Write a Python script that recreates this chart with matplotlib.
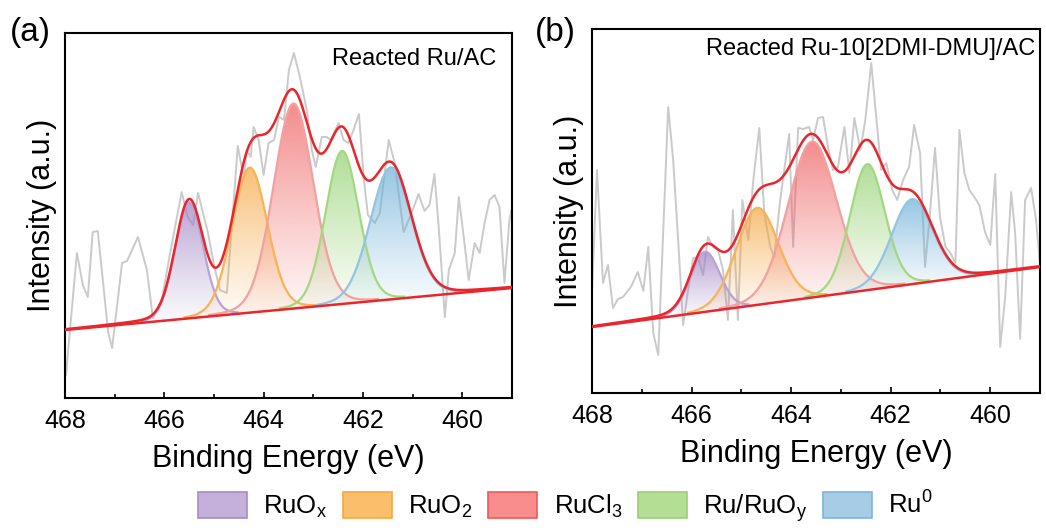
import numpy as np
import matplotlib
matplotlib.use("Agg")
import matplotlib.pyplot as plt
from matplotlib.patches import Polygon, Patch
from matplotlib.ticker import MultipleLocator
import matplotlib.colors as mcolors

plt.rcParams['font.family'] = ['Liberation Sans', 'DejaVu Sans']
plt.rcParams['mathtext.fontset'] = 'custom'
plt.rcParams['mathtext.rm'] = 'Liberation Sans'
plt.rcParams['mathtext.it'] = 'Liberation Sans:italic'

# ---- raw spectra (binding energy, intensity a.u.) ----
a_energy = [467.98, 467.76, 467.64, 467.54, 467.44, 467.34, 467.13, 467.05, 466.85, 466.75,
            466.53, 466.35, 466.23, 466.05, 465.89, 465.65, 465.53, 465.42, 465.32, 465.12,
            465.00, 464.88, 464.74, 464.52, 464.40, 464.34, 464.26, 464.20, 464.10, 464.00,
            463.90, 463.79, 463.69, 463.59, 463.49, 463.39, 463.27, 463.13, 463.03, 462.95,
            462.83, 462.73, 462.65, 462.49, 462.39, 462.29, 462.19, 462.08, 461.98, 461.90,
            461.76, 461.66, 461.48, 461.36, 461.18, 461.02, 460.88, 460.76, 460.66, 460.56,
            460.47, 460.35, 460.27, 460.15, 460.07, 459.97, 459.87, 459.75, 459.65, 459.55,
            459.45, 459.35, 459.25, 459.15, 459.05, 458.93]
a_raw = [23, 145, 113, 101, 166, 167, 66, 50, 135, 137,
         161, 128, 80, 98, 143, 206, 181, 173, 205, 165,
         133, 108, 105, 252, 220, 248, 241, 271, 258, 223,
         255, 258, 281, 278, 328, 345, 321, 288, 248, 231,
         261, 261, 258, 275, 258, 255, 268, 284, 218, 183,
         175, 185, 258, 235, 166, 185, 204, 187, 193, 224,
         168, 81, 128, 145, 201, 161, 118, 155, 145, 175,
         198, 203, 191, 115, 178, 206]

b_energy = [468.00, 467.90, 467.78, 467.68, 467.58, 467.48, 467.38, 467.22, 467.08,
            466.97, 466.87, 466.77, 466.67, 466.47, 466.37, 466.27, 466.17, 466.07,
            465.97, 465.87, 465.77, 465.67, 465.57, 465.47, 465.37, 465.27, 465.17, 465.07,
            464.98, 464.86, 464.76, 464.64, 464.54, 464.42, 464.34, 464.22, 464.04,
            463.96, 463.86, 463.76, 463.64, 463.56, 463.46, 463.36, 463.26, 463.16, 463.06,
            462.93, 462.83, 462.73, 462.61, 462.51, 462.39, 462.31, 462.19, 462.09,
            461.97, 461.87, 461.75, 461.63, 461.53, 461.41, 461.31, 461.21, 461.11, 461.01,
            460.90, 460.80, 460.70, 460.62, 460.52, 460.42, 460.32, 460.22, 460.10, 460.00,
            459.90, 459.80, 459.70, 459.58, 459.50, 459.40, 459.30, 459.18, 459.08, 458.97]
b_raw = [103, 223, 110, 128, 85, 94, 96, 106, 121,
         102, 146, 60, 38, 286, 233, 153, 68, 103,
         135, 136, 118, 156, 146, 143, 123, 73, 183, 73,
         193, 153, 213, 265, 180, 146, 136, 193, 259,
         146, 265, 264, 266, 253, 275, 276, 246, 223, 226,
         266, 220, 275, 243, 273, 330, 286, 223, 230,
         203, 193, 213, 226, 268, 240, 126, 180, 245, 176,
         146, 140, 130, 263, 220, 203, 196, 188, 160, 148,
         219, 46, 96, 201, 160, 54, 193, 205, 173, 111]

# ---- fitted components: centre (eV), height above background, FWHM (eV) ----
species = ['RuO$_\\mathrm{x}$', 'RuO$_\\mathrm{2}$', 'RuCl$_\\mathrm{3}$',
           'Ru/RuO$_\\mathrm{y}$', 'Ru$^\\mathrm{0}$']
a_centers = [465.50, 464.28, 463.40, 462.42, 461.44]
a_heights = [116, 145, 205, 153, 132]
a_fwhm = [0.67, 0.84, 0.95, 0.79, 0.98]
a_bg = [68, 110]      # background at 468 eV and 459 eV

b_centers = [465.73, 464.68, 463.58, 462.47, 461.57]
b_heights = [60, 97, 156, 126, 85]
b_fwhm = [0.70, 1.00, 1.16, 0.83, 0.98]
b_bg = [66, 126]

lor_frac = 0.1   # Gaussian-Lorentzian mixing

fill_colors = ['#9b7fc0', '#f5a53d', '#ef5b5b', '#8fd06a', '#6aaed8']
line_colors = ['#b9a3d6', '#f7b457', '#f3a0a0', '#a3d880', '#92c4e4']
legend_face = ['#c4b0da', '#fbbf6c', '#f98c8c', '#b3de93', '#a6cce6']
legend_edge = ['#a88bc6', '#f5a844', '#f15858', '#99d075', '#7db6db']

panels = [
    dict(pos=[0.0621, 0.2462, 0.4273, 0.6913], ylim=365, energy=a_energy, raw=a_raw,
         centers=a_centers, heights=a_heights, fwhm=a_fwhm, bg=a_bg,
         tag='(a)', tag_x=10, note='Reacted Ru/AC', note_xy=(0.966, 0.912)),
    dict(pos=[0.5660, 0.2557, 0.4283, 0.6894], ylim=364, energy=b_energy, raw=b_raw,
         centers=b_centers, heights=b_heights, fwhm=b_fwhm, bg=b_bg,
         tag='(b)', tag_x=535, note='Reacted Ru-10[2DMI-DMU]/AC', note_xy=(0.989, 0.929)),
]


def gl_peak(x, c, h, w):
    g = np.exp(-4 * np.log(2) * (x - c) ** 2 / w ** 2)
    l = 1.0 / (1 + 4 * (x - c) ** 2 / w ** 2)
    return h * ((1 - lor_frac) * g + lor_frac * l)


fig = plt.figure(figsize=(10.46, 5.28), dpi=100)
x = np.linspace(468, 459, 901)

for p in panels:
    ax = fig.add_axes(p['pos'])
    base = p['bg'][0] + (468 - x) / 9.0 * (p['bg'][1] - p['bg'][0])

    ax.plot(p['energy'], p['raw'], color='#cacaca', lw=1.4, zorder=1)

    total = base.copy()
    for c, h, w, fc, lc in zip(p['centers'], p['heights'], p['fwhm'], fill_colors, line_colors):
        comp = gl_peak(x, c, h, w)
        total += comp
        m = comp > 1.5
        xs, bs, ts = x[m], base[m], base[m] + comp[m]

        # gradient fill clipped to the peak area
        verts = np.column_stack([np.r_[xs, xs[::-1]], np.r_[bs, ts[::-1]]])
        patch = Polygon(verts, closed=True, fc='none', ec='none')
        ax.add_patch(patch)
        y0, y1 = bs.min(), ts.max()
        n = 200
        grad = np.zeros((n, 1, 4))
        grad[:, 0, :3] = mcolors.to_rgb(fc)
        grad[:, 0, 3] = 0.04 + 0.66 * np.linspace(0, 1, n) ** 1.1
        im = ax.imshow(grad, extent=(xs.max(), xs.min(), y0, y1), origin='lower',
                       aspect='auto', interpolation='bilinear', zorder=2)
        im.set_clip_path(patch)

        ax.plot(xs, ts, color=lc, lw=1.6, zorder=3)

    ax.plot(x, base, color='#e8262b', lw=1.8, zorder=4)
    ax.plot(x, total, color='#e8262b', lw=1.8, zorder=5)

    ax.set_xlim(468, 459)
    ax.set_ylim(0, p['ylim'])
    ax.set_yticks([])
    ax.xaxis.set_major_locator(MultipleLocator(2))
    ax.xaxis.set_minor_locator(MultipleLocator(1))
    ax.tick_params(axis='x', which='major', direction='in', length=4, width=1.2,
                   labelsize=18, pad=8)
    ax.tick_params(axis='x', which='minor', direction='in', length=3, width=1.2)
    for sp in ax.spines.values():
        sp.set_linewidth(1.5)

    ax.set_xlabel('Binding Energy (eV)', fontsize=22, labelpad=8)
    ax.set_ylabel('Intensity (a.u.)', fontsize=22, labelpad=6)
    ax.text(p['note_xy'][0], p['note_xy'][1], p['note'], transform=ax.transAxes,
            ha='right', va='baseline', fontsize=17)
    fig.text(p['tag_x'] / 1046, 1 - 32.5 / 528, p['tag'], ha='left', va='center', fontsize=24)

handles = [Patch(facecolor=f, edgecolor=e, lw=1.2) for f, e in zip(legend_face, legend_edge)]
fig.legend(handles, species, loc='center', bbox_to_anchor=(0.5406, 0.039), ncol=5,
           frameon=False, fontsize=18.5, handlelength=1.9, handleheight=1.2,
           handletextpad=0.65, columnspacing=0.6, borderpad=0)

fig.savefig('out.png', dpi=100)
